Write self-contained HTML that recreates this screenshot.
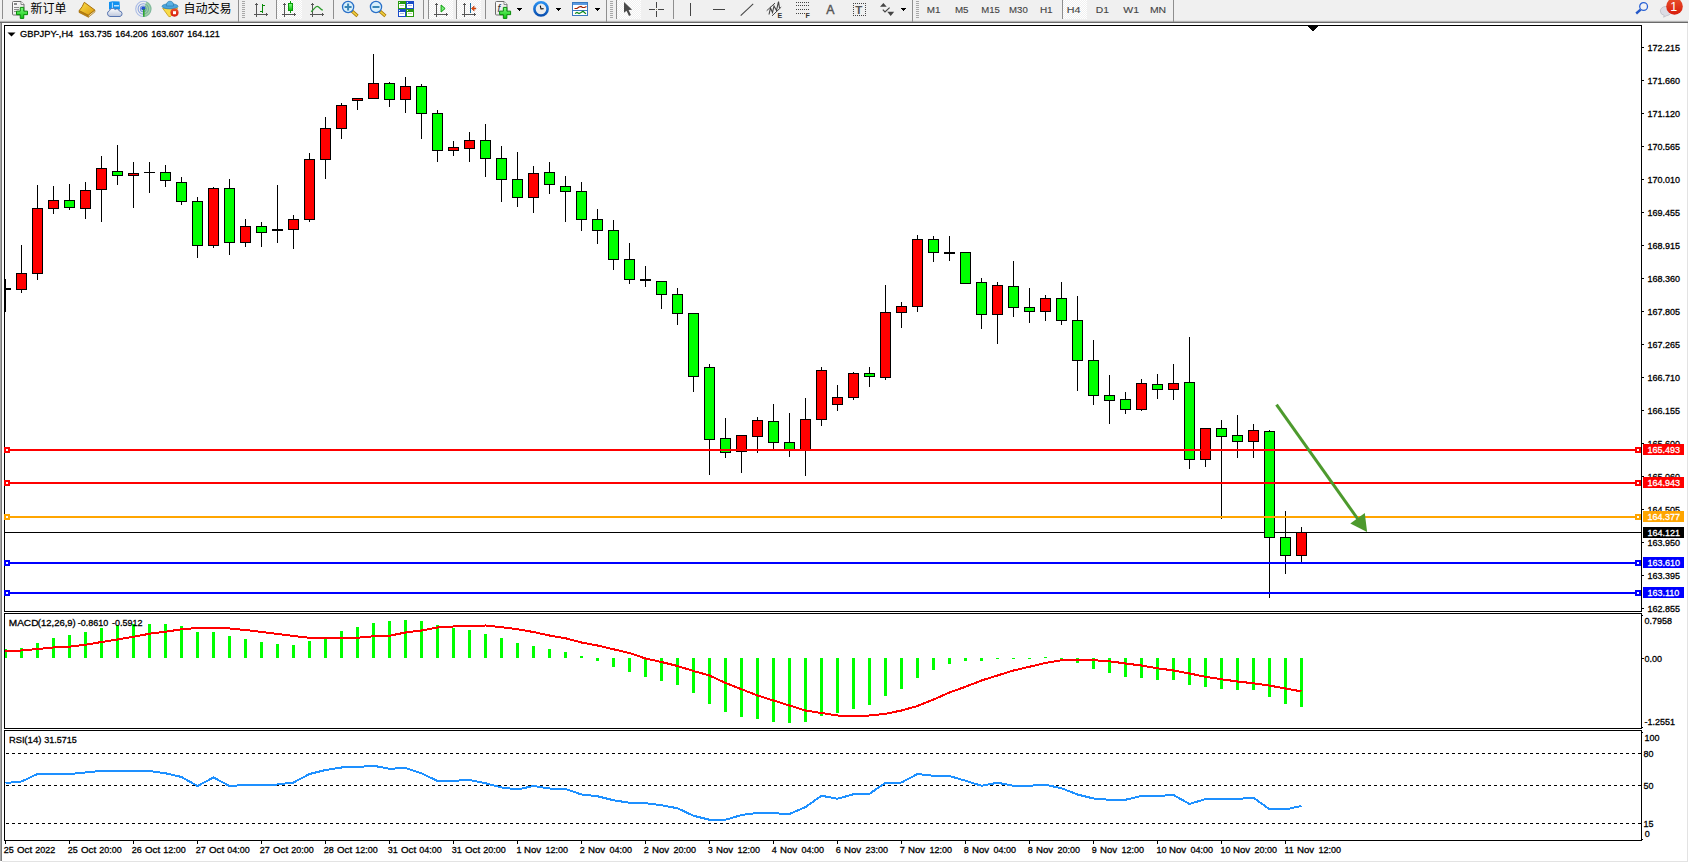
<!DOCTYPE html>
<html lang="zh"><head><meta charset="utf-8"><title>GBPJPY-,H4</title>
<style>
html,body{margin:0;padding:0;background:#fff;overflow:hidden}
svg{display:block}
text{font-family:"Liberation Sans","Noto Sans CJK SC",sans-serif;}
</style></head><body>
<svg width="1689" height="863" viewBox="0 0 1689 863">
<rect x="0" y="0" width="1689" height="863" fill="#fff"/>
<rect x="0" y="0" width="1689" height="20" fill="#f0f0f0"/>
<rect x="0" y="20" width="1688" height="1" fill="#e6e6e6"/>
<rect x="0" y="21" width="1688" height="1" fill="#b4b4b4"/>
<rect x="0" y="22" width="1688" height="1" fill="#6a6a6a"/>
<rect x="0" y="23" width="1" height="838" fill="#a6a6a6"/>
<rect x="1" y="23" width="1" height="838" fill="#7a7a7a"/>
<rect x="1687" y="23" width="1" height="839" fill="#e3e3e3"/>
<rect x="2" y="861" width="1686" height="1" fill="#e3e3e3"/>
<defs><linearGradient id="gp" x1="0" y1="0" x2="0" y2="1"><stop offset="0" stop-color="#7dfc7d"/><stop offset="1" stop-color="#0fc40f"/></linearGradient><linearGradient id="gd" x1="0" y1="0" x2="1" y2="1"><stop offset="0" stop-color="#ffffff"/><stop offset="1" stop-color="#dcdcdc"/></linearGradient><linearGradient id="gg" x1="0" y1="0" x2="1" y2="1"><stop offset="0" stop-color="#fde04a"/><stop offset="1" stop-color="#d9980c"/></linearGradient><linearGradient id="gc" x1="0" y1="0" x2="0" y2="1"><stop offset="0" stop-color="#ffffff"/><stop offset="1" stop-color="#bcc6dc"/></linearGradient><linearGradient id="gr" x1="0" y1="0" x2="0" y2="1"><stop offset="0" stop-color="#e8502c"/><stop offset="1" stop-color="#d81c0c"/></linearGradient><linearGradient id="gb" x1="0" y1="0" x2="0" y2="1"><stop offset="0" stop-color="#2a90f0"/><stop offset="1" stop-color="#0a50b0"/></linearGradient><pattern id="ck" width="2" height="2" patternUnits="userSpaceOnUse"><rect width="2" height="2" fill="#f0f0f0"/><rect width="1" height="1" fill="#fff"/><rect x="1" y="1" width="1" height="1" fill="#fff"/></pattern></defs>
<g shape-rendering="crispEdges">
<rect x="277" y="0" width="25" height="19" fill="url(#ck)"/>
<rect x="429" y="0" width="24" height="19" fill="url(#ck)"/>
<rect x="457" y="0" width="24" height="19" fill="url(#ck)"/>
<rect x="617" y="0" width="24" height="19" fill="url(#ck)"/>
<rect x="1063" y="0" width="24" height="19" fill="url(#ck)"/>
<rect x="2" y="0" width="1" height="19" fill="#8e8e8e"/>
<rect x="238" y="0" width="1" height="22" fill="#8e8e8e"/>
<rect x="606" y="0" width="1" height="22" fill="#8e8e8e"/>
<rect x="912" y="0" width="1" height="22" fill="#8e8e8e"/>
<rect x="1173" y="0" width="1" height="22" fill="#8e8e8e"/>
<rect x="276" y="0" width="1" height="19" fill="#8e8e8e"/>
<rect x="333" y="0" width="1" height="19" fill="#8e8e8e"/>
<rect x="423" y="0" width="1" height="19" fill="#8e8e8e"/>
<rect x="428" y="0" width="1" height="19" fill="#8e8e8e"/>
<rect x="456" y="0" width="1" height="19" fill="#8e8e8e"/>
<rect x="485" y="0" width="1" height="19" fill="#8e8e8e"/>
<rect x="616" y="0" width="1" height="19" fill="#8e8e8e"/>
<rect x="673" y="0" width="1" height="19" fill="#8e8e8e"/>
<rect x="1062" y="0" width="1" height="19" fill="#8e8e8e"/>
<rect x="242" y="1" width="3" height="1" fill="#a8a8a8"/>
<rect x="242" y="3" width="3" height="1" fill="#a8a8a8"/>
<rect x="242" y="5" width="3" height="1" fill="#a8a8a8"/>
<rect x="242" y="7" width="3" height="1" fill="#a8a8a8"/>
<rect x="242" y="9" width="3" height="1" fill="#a8a8a8"/>
<rect x="242" y="11" width="3" height="1" fill="#a8a8a8"/>
<rect x="242" y="13" width="3" height="1" fill="#a8a8a8"/>
<rect x="242" y="15" width="3" height="1" fill="#a8a8a8"/>
<rect x="242" y="17" width="3" height="1" fill="#a8a8a8"/>
<rect x="610" y="1" width="3" height="1" fill="#a8a8a8"/>
<rect x="610" y="3" width="3" height="1" fill="#a8a8a8"/>
<rect x="610" y="5" width="3" height="1" fill="#a8a8a8"/>
<rect x="610" y="7" width="3" height="1" fill="#a8a8a8"/>
<rect x="610" y="9" width="3" height="1" fill="#a8a8a8"/>
<rect x="610" y="11" width="3" height="1" fill="#a8a8a8"/>
<rect x="610" y="13" width="3" height="1" fill="#a8a8a8"/>
<rect x="610" y="15" width="3" height="1" fill="#a8a8a8"/>
<rect x="610" y="17" width="3" height="1" fill="#a8a8a8"/>
<rect x="916" y="1" width="3" height="1" fill="#a8a8a8"/>
<rect x="916" y="3" width="3" height="1" fill="#a8a8a8"/>
<rect x="916" y="5" width="3" height="1" fill="#a8a8a8"/>
<rect x="916" y="7" width="3" height="1" fill="#a8a8a8"/>
<rect x="916" y="9" width="3" height="1" fill="#a8a8a8"/>
<rect x="916" y="11" width="3" height="1" fill="#a8a8a8"/>
<rect x="916" y="13" width="3" height="1" fill="#a8a8a8"/>
<rect x="916" y="15" width="3" height="1" fill="#a8a8a8"/>
<rect x="916" y="17" width="3" height="1" fill="#a8a8a8"/>
<rect x="256" y="3" width="1" height="14" fill="#555"/>
<rect x="255" y="4" width="3" height="1" fill="#555"/>
<rect x="254" y="14" width="14" height="1" fill="#555"/>
<rect x="266" y="13" width="1" height="3" fill="#555"/>
<rect x="284" y="3" width="1" height="14" fill="#555"/>
<rect x="283" y="4" width="3" height="1" fill="#555"/>
<rect x="282" y="14" width="14" height="1" fill="#555"/>
<rect x="294" y="13" width="1" height="3" fill="#555"/>
<rect x="312" y="3" width="1" height="14" fill="#555"/>
<rect x="311" y="4" width="3" height="1" fill="#555"/>
<rect x="310" y="14" width="14" height="1" fill="#555"/>
<rect x="322" y="13" width="1" height="3" fill="#555"/>
<rect x="436" y="3" width="1" height="14" fill="#555"/>
<rect x="435" y="4" width="3" height="1" fill="#555"/>
<rect x="434" y="14" width="14" height="1" fill="#555"/>
<rect x="446" y="13" width="1" height="3" fill="#555"/>
<rect x="464" y="3" width="1" height="14" fill="#555"/>
<rect x="463" y="4" width="3" height="1" fill="#555"/>
<rect x="462" y="14" width="14" height="1" fill="#555"/>
<rect x="474" y="13" width="1" height="3" fill="#555"/>
<rect x="262" y="4" width="1" height="9" fill="#0a8a0a"/>
<rect x="263" y="5" width="2" height="1" fill="#0a8a0a"/>
<rect x="260" y="11" width="2" height="1" fill="#0a8a0a"/>
<rect x="290" y="1" width="1" height="12" fill="#0a9a0a"/>
<rect x="288" y="3" width="5" height="8" fill="#0a9a0a"/>
<rect x="289" y="4" width="3" height="6" fill="url(#gp)"/>
<rect x="470" y="3" width="1" height="10" fill="#1a6a9a"/>
<rect x="690" y="3" width="1" height="13" fill="#444"/>
<rect x="713" y="9" width="12" height="1" fill="#444"/>
<rect x="656" y="2" width="1" height="6" fill="#444"/>
<rect x="656" y="11" width="1" height="6" fill="#444"/>
<rect x="649" y="9" width="6" height="1" fill="#444"/>
<rect x="658" y="9" width="6" height="1" fill="#444"/>
<rect x="656" y="9" width="1" height="1" fill="#8a8060"/>
<rect x="517" y="8" width="5" height="1" fill="#000"/>
<rect x="518" y="9" width="3" height="1" fill="#000"/>
<rect x="519" y="10" width="1" height="1" fill="#000"/>
<rect x="556" y="8" width="5" height="1" fill="#000"/>
<rect x="557" y="9" width="3" height="1" fill="#000"/>
<rect x="558" y="10" width="1" height="1" fill="#000"/>
<rect x="595" y="8" width="5" height="1" fill="#000"/>
<rect x="596" y="9" width="3" height="1" fill="#000"/>
<rect x="597" y="10" width="1" height="1" fill="#000"/>
<rect x="901" y="8" width="5" height="1" fill="#000"/>
<rect x="902" y="9" width="3" height="1" fill="#000"/>
<rect x="903" y="10" width="1" height="1" fill="#000"/>
<rect x="398" y="1" width="8" height="8" fill="#2a9a10"/>
<rect x="399" y="4" width="6" height="4" fill="#fff"/>
<rect x="400" y="5" width="4" height="1" fill="#b8d8a0"/>
<rect x="399" y="2" width="1" height="1" fill="#dfe"/>
<rect x="406" y="1" width="8" height="8" fill="#1a4cc8"/>
<rect x="407" y="4" width="6" height="4" fill="#fff"/>
<rect x="408" y="5" width="4" height="1" fill="#a8b8e8"/>
<rect x="407" y="2" width="1" height="1" fill="#dfe"/>
<rect x="398" y="9" width="8" height="8" fill="#1a4cc8"/>
<rect x="399" y="12" width="6" height="4" fill="#fff"/>
<rect x="400" y="13" width="4" height="1" fill="#a8b8e8"/>
<rect x="399" y="10" width="1" height="1" fill="#dfe"/>
<rect x="406" y="9" width="8" height="8" fill="#2a9a10"/>
<rect x="407" y="12" width="6" height="4" fill="#fff"/>
<rect x="408" y="13" width="4" height="1" fill="#b8d8a0"/>
<rect x="407" y="10" width="1" height="1" fill="#dfe"/>
<rect x="796" y="2" width="1" height="1" fill="#444"/>
<rect x="798" y="2" width="1" height="1" fill="#444"/>
<rect x="800" y="2" width="1" height="1" fill="#444"/>
<rect x="802" y="2" width="1" height="1" fill="#444"/>
<rect x="804" y="2" width="1" height="1" fill="#444"/>
<rect x="806" y="2" width="1" height="1" fill="#444"/>
<rect x="808" y="2" width="1" height="1" fill="#444"/>
<rect x="796" y="5" width="1" height="1" fill="#444"/>
<rect x="798" y="5" width="1" height="1" fill="#444"/>
<rect x="800" y="5" width="1" height="1" fill="#444"/>
<rect x="802" y="5" width="1" height="1" fill="#444"/>
<rect x="804" y="5" width="1" height="1" fill="#444"/>
<rect x="806" y="5" width="1" height="1" fill="#444"/>
<rect x="808" y="5" width="1" height="1" fill="#444"/>
<rect x="796" y="9" width="1" height="1" fill="#444"/>
<rect x="798" y="9" width="1" height="1" fill="#444"/>
<rect x="800" y="9" width="1" height="1" fill="#444"/>
<rect x="802" y="9" width="1" height="1" fill="#444"/>
<rect x="804" y="9" width="1" height="1" fill="#444"/>
<rect x="806" y="9" width="1" height="1" fill="#444"/>
<rect x="808" y="9" width="1" height="1" fill="#444"/>
<rect x="796" y="13" width="1" height="1" fill="#444"/>
<rect x="798" y="13" width="1" height="1" fill="#444"/>
<rect x="800" y="13" width="1" height="1" fill="#444"/>
<rect x="802" y="13" width="1" height="1" fill="#444"/>
<rect x="804" y="13" width="1" height="1" fill="#444"/>
<rect x="853" y="3" width="1" height="1" fill="#444"/>
<rect x="853" y="15" width="1" height="1" fill="#444"/>
<rect x="855" y="3" width="1" height="1" fill="#444"/>
<rect x="855" y="15" width="1" height="1" fill="#444"/>
<rect x="857" y="3" width="1" height="1" fill="#444"/>
<rect x="857" y="15" width="1" height="1" fill="#444"/>
<rect x="859" y="3" width="1" height="1" fill="#444"/>
<rect x="859" y="15" width="1" height="1" fill="#444"/>
<rect x="861" y="3" width="1" height="1" fill="#444"/>
<rect x="861" y="15" width="1" height="1" fill="#444"/>
<rect x="863" y="3" width="1" height="1" fill="#444"/>
<rect x="863" y="15" width="1" height="1" fill="#444"/>
<rect x="865" y="3" width="1" height="1" fill="#444"/>
<rect x="865" y="15" width="1" height="1" fill="#444"/>
<rect x="853" y="3" width="1" height="1" fill="#444"/>
<rect x="865" y="3" width="1" height="1" fill="#444"/>
<rect x="853" y="5" width="1" height="1" fill="#444"/>
<rect x="865" y="5" width="1" height="1" fill="#444"/>
<rect x="853" y="7" width="1" height="1" fill="#444"/>
<rect x="865" y="7" width="1" height="1" fill="#444"/>
<rect x="853" y="9" width="1" height="1" fill="#444"/>
<rect x="865" y="9" width="1" height="1" fill="#444"/>
<rect x="853" y="11" width="1" height="1" fill="#444"/>
<rect x="865" y="11" width="1" height="1" fill="#444"/>
<rect x="853" y="13" width="1" height="1" fill="#444"/>
<rect x="865" y="13" width="1" height="1" fill="#444"/>
<rect x="853" y="15" width="1" height="1" fill="#444"/>
<rect x="865" y="15" width="1" height="1" fill="#444"/>
<rect x="572" y="2" width="16" height="14" fill="#3878c0"/>
<rect x="573" y="3" width="14" height="2" fill="#5a9ae0"/>
<rect x="573" y="5" width="14" height="5" fill="#fff"/>
<rect x="573" y="11" width="14" height="4" fill="#fff"/>
</g>
<polyline points="574.5,8.5 577,8.5 579,7 581,6.5 582.5,7.5 584.5,7.5 586.5,6.5" fill="none" stroke="#a02000" stroke-width="1.2"/>
<polyline points="575,13.5 577,12.5 579,13.5 581,12.5 583,11.3 585,13 586,13.8" fill="none" stroke="#0a8a1a" stroke-width="1.2"/>
<path d="M13.5,1.5 h7.5 l3,3 v9.5 q0,1 -1,1 h-9.5 q-1,0 -1,-1 v-11.5 q0,-1 1,-1z" fill="url(#gd)" stroke="#6e6e6e" stroke-width="1"/>
<path d="M21,1.5 v3 h3" fill="#fff" stroke="#6e6e6e" stroke-width="0.8"/>
<g shape-rendering="crispEdges">
<rect x="14" y="3" width="3" height="2" fill="#8a8a8a"/>
<rect x="14" y="7" width="5" height="1" fill="#8a8a8a"/>
<rect x="14" y="9" width="5" height="1" fill="#8a8a8a"/>
<rect x="14" y="11" width="3" height="1" fill="#8a8a8a"/>
</g>
<path d="M20.25,7.4 h3.5 v3.75 h3.75 v3.5 h-3.75 v3.75 h-3.5 v-3.75 h-3.75 v-3.5 h3.75z" fill="url(#gp)" stroke="#0a8a0a" stroke-width="1"/>
<path d="M496.5,1.5 h7.5 l3,3 v9.5 q0,1 -1,1 h-9.5 q-1,0 -1,-1 v-11.5 q0,-1 1,-1z" fill="url(#gd)" stroke="#6e6e6e" stroke-width="1"/>
<path d="M504,1.5 v3 h3" fill="#fff" stroke="#6e6e6e" stroke-width="0.8"/>
<text x="497.5" y="11.5" font-size="10" font-style="italic" font-family="Liberation Serif,serif" fill="#333">f</text>
<path d="M503.35,7.4 h3.5 v3.75 h3.75 v3.5 h-3.75 v3.75 h-3.5 v-3.75 h-3.75 v-3.5 h3.75z" fill="url(#gp)" stroke="#0a8a0a" stroke-width="1"/>
<path d="M79.2,10.6 L88.2,15.2 L88.4,17.2 L79,12.4 Z" fill="#c08a10" stroke="#a06a08" stroke-width="0.7" stroke-linejoin="round"/>
<path d="M88.2,15.2 L94.8,10 L95,11.8 L88.4,17.2Z" fill="#e8dcb0" stroke="#a8700c" stroke-width="0.7" stroke-linejoin="round"/>
<path d="M84.3,2.3 L94.8,10 L88.2,15.2 L79.2,10.6 Q82.5,7 84.3,2.3Z" fill="url(#gg)" stroke="#a8700c" stroke-width="1" stroke-linejoin="round"/>
<path d="M109,2 L112.5,1.2 L119.5,1.5 L120,9.5 L109,9.5Z" fill="#1090f0"/>
<path d="M112.4,2.5 V9.5" stroke="#e8f4ff" stroke-width="0.8"/>
<rect x="114" y="5.2" width="5" height="1.2" fill="#e8f4ff"/>
<path d="M110,16.5 a3,3 0 0 1 -0.5,-5.8 a3.2,3.2 0 0 1 5.6,-1.2 a2.6,2.6 0 0 1 4.2,1.5 a2.8,2.8 0 0 1 0.7,5.5z" fill="url(#gc)" stroke="#4868a8" stroke-width="0.9"/>
<circle cx="143.3" cy="8.9" r="7.6" fill="none" stroke="#2a5cd0" stroke-width="1.1" opacity="0.35"/>
<circle cx="143.3" cy="8.9" r="5.2" fill="none" stroke="#2a5cd0" stroke-width="1.1" opacity="0.5"/>
<circle cx="143.3" cy="8.9" r="2.9" fill="none" stroke="#2a5cd0" stroke-width="1.1" opacity="0.6"/>
<path d="M143.5,9 L143.5,17 A8.2,8.2 0 0 0 151.6,9 A8.2,8.2 0 0 0 146.5,1.4Z" fill="#58b858" opacity="0.5"/>
<circle cx="143.3" cy="8.6" r="2" fill="#2050d0"/>
<path d="M143.8,9 V16.8" stroke="#20a020" stroke-width="1.4"/>
<path d="M162.7,8.3 L177.7,7.9 L170.5,16.6 L168.8,16.6Z" fill="#f8dc48" stroke="#c89810" stroke-width="0.8"/>
<ellipse cx="170" cy="6.3" rx="8" ry="2.6" fill="#4aa4dc" stroke="#2a7cb0" stroke-width="0.7"/>
<path d="M166.3,6 Q166.5,1.2 170,1.2 Q173.5,1.2 173.7,6Z" fill="#5ab0e4" stroke="#2a7cb0" stroke-width="0.7"/>
<circle cx="174.5" cy="12.6" r="4.1" fill="url(#gr)"/>
<rect x="173" y="11.2" width="3" height="3" fill="#fff"/>
<text x="30.5" y="12.6" font-size="12" fill="#000">新订单</text>
<text x="183.5" y="12.6" font-size="12" fill="#000">自动交易</text>
<path d="M311,11.6 C313.5,10.5 315,6.3 317.2,6.4 C319.3,6.5 320.5,9.6 322.8,10.2" fill="none" stroke="#2a9a2a" stroke-width="1.2"/>
<path d="M351.90000000000003,11 L357.5,16" stroke="#a87808" stroke-width="3.2"/>
<path d="M352.5,11.6 L357.1,15.6" stroke="#f0d040" stroke-width="1.6"/>
<circle cx="348.1" cy="7" r="5.6" fill="#d8f0fc" stroke="#2a70c8" stroke-width="1.3"/>
<rect x="344.6" y="6" width="7" height="2" fill="#3a86b6"/>
<rect x="347.1" y="3.5" width="2" height="7" fill="#3a86b6"/>
<path d="M379.8,11 L385.4,16" stroke="#a87808" stroke-width="3.2"/>
<path d="M380.4,11.6 L385,15.6" stroke="#f0d040" stroke-width="1.6"/>
<circle cx="376" cy="7" r="5.6" fill="#d8f0fc" stroke="#2a70c8" stroke-width="1.3"/>
<rect x="372.5" y="6" width="7" height="2" fill="#3a86b6"/>
<path d="M441.1,5 L441.1,12 L445.1,8.5Z" fill="#78f078" stroke="#0a9a0a" stroke-width="1" stroke-linejoin="round"/>
<path d="M471.4,8.5 L474.2,6 L473.6,8 L475.8,8 L475.8,9 L473.6,9 L474.2,11Z" fill="#e85010" stroke="#b83000" stroke-width="0.6"/>
<circle cx="541" cy="8.9" r="6.6" fill="#ececec" stroke="url(#gb)" stroke-width="2.6"/>
<path d="M540.3,5.6 L541,9 L543.6,8.6" fill="none" stroke="#111" stroke-width="1.1"/>
<path d="M624,1.9 L624,12.8 L626.5,10.8 L629,16 L630.9,15.1 L628.6,9.9 L632.1,9.7Z" fill="#4a4a4a"/>
<path d="M740.7,15.6 L753.2,3.8" stroke="#444" stroke-width="1.1"/>
<path d="M766.7,10.7 L775,3.1 M772,15.9 L781.2,7.1" stroke="#444" stroke-width="1"/>
<path d="M769,14.5 L770.5,8 L772.5,12.5 L774,6 L776.5,10.5 L778.5,1.5 L779.5,8" fill="none" stroke="#444" stroke-width="1.1"/>
<text x="777.6" y="18" font-size="7" font-weight="bold" fill="#333">E</text>
<text x="805.6" y="18" font-size="7" font-weight="bold" fill="#333">F</text>
<text x="826.3" y="14" font-size="12.3" fill="#555" stroke="#555" stroke-width="0.4">A</text>
<text x="855.3" y="14" font-size="11.5" font-weight="bold" fill="#555">T</text>
<path d="M880,6.8 L883.4,2.9 L886.7,6.8Z M887.3,11.7 L894.2,11.7 L890.7,16Z" fill="#444"/>
<path d="M882.8,9.6 L885,12 L889.6,7.6" fill="none" stroke="#444" stroke-width="1.2"/>
<text transform="translate(926.8,12.8) scale(0.928,1)" font-size="9.7" fill="#444" stroke="#444" stroke-width="0.12" textLength="14.76" lengthAdjust="spacingAndGlyphs">M1</text>
<text transform="translate(954.9,12.8) scale(0.928,1)" font-size="9.7" fill="#444" stroke="#444" stroke-width="0.12" textLength="14.66" lengthAdjust="spacingAndGlyphs">M5</text>
<text transform="translate(981.3,12.8) scale(0.928,1)" font-size="9.7" fill="#444" stroke="#444" stroke-width="0.12" textLength="20.04" lengthAdjust="spacingAndGlyphs">M15</text>
<text transform="translate(1009.05,12.8) scale(0.928,1)" font-size="9.7" fill="#444" stroke="#444" stroke-width="0.12" textLength="20.15" lengthAdjust="spacingAndGlyphs">M30</text>
<text transform="translate(1039.8999999999999,12.8) scale(0.928,1)" font-size="9.7" fill="#444" stroke="#444" stroke-width="0.12" textLength="13.79" lengthAdjust="spacingAndGlyphs">H1</text>
<text transform="translate(1066.8,12.8) scale(0.928,1)" font-size="9.7" fill="#444" stroke="#444" stroke-width="0.12" textLength="14.76" lengthAdjust="spacingAndGlyphs">H4</text>
<text transform="translate(1095.8,12.8) scale(0.928,1)" font-size="9.7" fill="#444" stroke="#444" stroke-width="0.12" textLength="14.22" lengthAdjust="spacingAndGlyphs">D1</text>
<text transform="translate(1123.3,12.8) scale(0.928,1)" font-size="9.7" fill="#444" stroke="#444" stroke-width="0.12" textLength="16.92" lengthAdjust="spacingAndGlyphs">W1</text>
<text transform="translate(1149.8999999999999,12.8) scale(0.928,1)" font-size="9.7" fill="#444" stroke="#444" stroke-width="0.12" textLength="17.46" lengthAdjust="spacingAndGlyphs">MN</text>
<path d="M1640.6,9.6 L1636.2,13.5" stroke="#2458c8" stroke-width="2.4"/>
<circle cx="1643.6" cy="6.5" r="3.9" fill="#f2f2f4" stroke="#2a62d4" stroke-width="1.3"/>
<path d="M1660.3,11 a5.6,4.6 0 1 1 6.5,4.6 l-3.2,1.6 l0.6,-1.8 a5.4,4.6 0 0 1 -3.9,-4.4z" fill="#dcdce4" stroke="#b8b8c0" stroke-width="0.7"/>
<circle cx="1674.5" cy="6.4" r="8.3" fill="url(#gr)"/>
<text x="1670.3" y="11" font-size="12.5" fill="#fff">1</text>
<g shape-rendering="crispEdges">
<rect x="4" y="25" width="1638" height="1" fill="#000"/>
<rect x="4" y="611" width="1638" height="1" fill="#000"/>
<rect x="4" y="25" width="1" height="587" fill="#000"/>
<rect x="1641" y="25" width="1" height="587" fill="#000"/>
<rect x="4" y="613" width="1638" height="1" fill="#000"/>
<rect x="4" y="728" width="1638" height="1" fill="#000"/>
<rect x="4" y="613" width="1" height="116" fill="#000"/>
<rect x="1641" y="613" width="1" height="116" fill="#000"/>
<rect x="4" y="730" width="1638" height="1" fill="#000"/>
<rect x="4" y="840" width="1638" height="1" fill="#000"/>
<rect x="4" y="730" width="1" height="111" fill="#000"/>
<rect x="1641" y="730" width="1" height="111" fill="#000"/>
<rect x="5" y="532" width="1636" height="1" fill="#000"/>
<rect x="5" y="279" width="1" height="33" fill="#000"/>
<rect x="0" y="288" width="11" height="2" fill="#000"/>
<rect x="21" y="245" width="1" height="48" fill="#000"/>
<rect x="16" y="273" width="11" height="17" fill="#000"/>
<rect x="17" y="274" width="9" height="15" fill="#f00"/>
<rect x="37" y="185" width="1" height="95" fill="#000"/>
<rect x="32" y="208" width="11" height="66" fill="#000"/>
<rect x="33" y="209" width="9" height="64" fill="#f00"/>
<rect x="53" y="186" width="1" height="28" fill="#000"/>
<rect x="48" y="200" width="11" height="9" fill="#000"/>
<rect x="49" y="201" width="9" height="7" fill="#f00"/>
<rect x="69" y="184" width="1" height="26" fill="#000"/>
<rect x="64" y="200" width="11" height="8" fill="#000"/>
<rect x="65" y="201" width="9" height="6" fill="#0f0"/>
<rect x="85" y="182" width="1" height="37" fill="#000"/>
<rect x="80" y="190" width="11" height="19" fill="#000"/>
<rect x="81" y="191" width="9" height="17" fill="#f00"/>
<rect x="101" y="156" width="1" height="66" fill="#000"/>
<rect x="96" y="168" width="11" height="22" fill="#000"/>
<rect x="97" y="169" width="9" height="20" fill="#f00"/>
<rect x="117" y="145" width="1" height="40" fill="#000"/>
<rect x="112" y="171" width="11" height="5" fill="#000"/>
<rect x="113" y="172" width="9" height="3" fill="#0f0"/>
<rect x="133" y="162" width="1" height="46" fill="#000"/>
<rect x="128" y="173" width="11" height="3" fill="#000"/>
<rect x="129" y="174" width="9" height="1" fill="#f00"/>
<rect x="149" y="162" width="1" height="31" fill="#000"/>
<rect x="144" y="172" width="11" height="1" fill="#000"/>
<rect x="165" y="165" width="1" height="22" fill="#000"/>
<rect x="160" y="172" width="11" height="9" fill="#000"/>
<rect x="161" y="173" width="9" height="7" fill="#0f0"/>
<rect x="181" y="177" width="1" height="28" fill="#000"/>
<rect x="176" y="182" width="11" height="20" fill="#000"/>
<rect x="177" y="183" width="9" height="18" fill="#0f0"/>
<rect x="197" y="197" width="1" height="61" fill="#000"/>
<rect x="192" y="201" width="11" height="45" fill="#000"/>
<rect x="193" y="202" width="9" height="43" fill="#0f0"/>
<rect x="213" y="187" width="1" height="61" fill="#000"/>
<rect x="208" y="188" width="11" height="58" fill="#000"/>
<rect x="209" y="189" width="9" height="56" fill="#f00"/>
<rect x="229" y="179" width="1" height="76" fill="#000"/>
<rect x="224" y="188" width="11" height="55" fill="#000"/>
<rect x="225" y="189" width="9" height="53" fill="#0f0"/>
<rect x="245" y="219" width="1" height="28" fill="#000"/>
<rect x="240" y="226" width="11" height="17" fill="#000"/>
<rect x="241" y="227" width="9" height="15" fill="#f00"/>
<rect x="261" y="222" width="1" height="25" fill="#000"/>
<rect x="256" y="226" width="11" height="7" fill="#000"/>
<rect x="257" y="227" width="9" height="5" fill="#0f0"/>
<rect x="277" y="185" width="1" height="58" fill="#000"/>
<rect x="272" y="229" width="11" height="2" fill="#000"/>
<rect x="293" y="215" width="1" height="34" fill="#000"/>
<rect x="288" y="219" width="11" height="11" fill="#000"/>
<rect x="289" y="220" width="9" height="9" fill="#f00"/>
<rect x="309" y="153" width="1" height="69" fill="#000"/>
<rect x="304" y="159" width="11" height="61" fill="#000"/>
<rect x="305" y="160" width="9" height="59" fill="#f00"/>
<rect x="325" y="117" width="1" height="62" fill="#000"/>
<rect x="320" y="128" width="11" height="32" fill="#000"/>
<rect x="321" y="129" width="9" height="30" fill="#f00"/>
<rect x="341" y="103" width="1" height="36" fill="#000"/>
<rect x="336" y="105" width="11" height="24" fill="#000"/>
<rect x="337" y="106" width="9" height="22" fill="#f00"/>
<rect x="357" y="98" width="1" height="12" fill="#000"/>
<rect x="352" y="98" width="11" height="3" fill="#000"/>
<rect x="353" y="99" width="9" height="1" fill="#f00"/>
<rect x="373" y="54" width="1" height="45" fill="#000"/>
<rect x="368" y="83" width="11" height="16" fill="#000"/>
<rect x="369" y="84" width="9" height="14" fill="#f00"/>
<rect x="389" y="82" width="1" height="25" fill="#000"/>
<rect x="384" y="83" width="11" height="17" fill="#000"/>
<rect x="385" y="84" width="9" height="15" fill="#0f0"/>
<rect x="405" y="77" width="1" height="36" fill="#000"/>
<rect x="400" y="86" width="11" height="14" fill="#000"/>
<rect x="401" y="87" width="9" height="12" fill="#f00"/>
<rect x="421" y="84" width="1" height="55" fill="#000"/>
<rect x="416" y="86" width="11" height="28" fill="#000"/>
<rect x="417" y="87" width="9" height="26" fill="#0f0"/>
<rect x="437" y="110" width="1" height="52" fill="#000"/>
<rect x="432" y="113" width="11" height="38" fill="#000"/>
<rect x="433" y="114" width="9" height="36" fill="#0f0"/>
<rect x="453" y="141" width="1" height="15" fill="#000"/>
<rect x="448" y="147" width="11" height="4" fill="#000"/>
<rect x="449" y="148" width="9" height="2" fill="#f00"/>
<rect x="469" y="132" width="1" height="30" fill="#000"/>
<rect x="464" y="140" width="11" height="9" fill="#000"/>
<rect x="465" y="141" width="9" height="7" fill="#f00"/>
<rect x="485" y="124" width="1" height="53" fill="#000"/>
<rect x="480" y="140" width="11" height="19" fill="#000"/>
<rect x="481" y="141" width="9" height="17" fill="#0f0"/>
<rect x="501" y="146" width="1" height="56" fill="#000"/>
<rect x="496" y="158" width="11" height="22" fill="#000"/>
<rect x="497" y="159" width="9" height="20" fill="#0f0"/>
<rect x="517" y="152" width="1" height="55" fill="#000"/>
<rect x="512" y="179" width="11" height="19" fill="#000"/>
<rect x="513" y="180" width="9" height="17" fill="#0f0"/>
<rect x="533" y="166" width="1" height="47" fill="#000"/>
<rect x="528" y="173" width="11" height="25" fill="#000"/>
<rect x="529" y="174" width="9" height="23" fill="#f00"/>
<rect x="549" y="162" width="1" height="32" fill="#000"/>
<rect x="544" y="172" width="11" height="13" fill="#000"/>
<rect x="545" y="173" width="9" height="11" fill="#0f0"/>
<rect x="565" y="176" width="1" height="46" fill="#000"/>
<rect x="560" y="186" width="11" height="6" fill="#000"/>
<rect x="561" y="187" width="9" height="4" fill="#0f0"/>
<rect x="581" y="182" width="1" height="49" fill="#000"/>
<rect x="576" y="191" width="11" height="29" fill="#000"/>
<rect x="577" y="192" width="9" height="27" fill="#0f0"/>
<rect x="597" y="209" width="1" height="35" fill="#000"/>
<rect x="592" y="219" width="11" height="12" fill="#000"/>
<rect x="593" y="220" width="9" height="10" fill="#0f0"/>
<rect x="613" y="220" width="1" height="50" fill="#000"/>
<rect x="608" y="230" width="11" height="30" fill="#000"/>
<rect x="609" y="231" width="9" height="28" fill="#0f0"/>
<rect x="629" y="243" width="1" height="41" fill="#000"/>
<rect x="624" y="259" width="11" height="21" fill="#000"/>
<rect x="625" y="260" width="9" height="19" fill="#0f0"/>
<rect x="645" y="266" width="1" height="21" fill="#000"/>
<rect x="640" y="279" width="11" height="2" fill="#000"/>
<rect x="661" y="281" width="1" height="28" fill="#000"/>
<rect x="656" y="281" width="11" height="14" fill="#000"/>
<rect x="657" y="282" width="9" height="12" fill="#0f0"/>
<rect x="677" y="288" width="1" height="37" fill="#000"/>
<rect x="672" y="294" width="11" height="20" fill="#000"/>
<rect x="673" y="295" width="9" height="18" fill="#0f0"/>
<rect x="693" y="313" width="1" height="79" fill="#000"/>
<rect x="688" y="313" width="11" height="64" fill="#000"/>
<rect x="689" y="314" width="9" height="62" fill="#0f0"/>
<rect x="709" y="364" width="1" height="111" fill="#000"/>
<rect x="704" y="367" width="11" height="73" fill="#000"/>
<rect x="705" y="368" width="9" height="71" fill="#0f0"/>
<rect x="725" y="418" width="1" height="40" fill="#000"/>
<rect x="720" y="438" width="11" height="15" fill="#000"/>
<rect x="721" y="439" width="9" height="13" fill="#0f0"/>
<rect x="741" y="435" width="1" height="38" fill="#000"/>
<rect x="736" y="435" width="11" height="17" fill="#000"/>
<rect x="737" y="436" width="9" height="15" fill="#f00"/>
<rect x="757" y="417" width="1" height="36" fill="#000"/>
<rect x="752" y="420" width="11" height="17" fill="#000"/>
<rect x="753" y="421" width="9" height="15" fill="#f00"/>
<rect x="773" y="404" width="1" height="47" fill="#000"/>
<rect x="768" y="421" width="11" height="22" fill="#000"/>
<rect x="769" y="422" width="9" height="20" fill="#0f0"/>
<rect x="789" y="413" width="1" height="44" fill="#000"/>
<rect x="784" y="442" width="11" height="9" fill="#000"/>
<rect x="785" y="443" width="9" height="7" fill="#0f0"/>
<rect x="805" y="398" width="1" height="78" fill="#000"/>
<rect x="800" y="419" width="11" height="32" fill="#000"/>
<rect x="801" y="420" width="9" height="30" fill="#f00"/>
<rect x="821" y="367" width="1" height="59" fill="#000"/>
<rect x="816" y="370" width="11" height="50" fill="#000"/>
<rect x="817" y="371" width="9" height="48" fill="#f00"/>
<rect x="837" y="385" width="1" height="26" fill="#000"/>
<rect x="832" y="397" width="11" height="8" fill="#000"/>
<rect x="833" y="398" width="9" height="6" fill="#f00"/>
<rect x="853" y="372" width="1" height="28" fill="#000"/>
<rect x="848" y="373" width="11" height="25" fill="#000"/>
<rect x="849" y="374" width="9" height="23" fill="#f00"/>
<rect x="869" y="367" width="1" height="20" fill="#000"/>
<rect x="864" y="373" width="11" height="4" fill="#000"/>
<rect x="865" y="374" width="9" height="2" fill="#0f0"/>
<rect x="885" y="285" width="1" height="95" fill="#000"/>
<rect x="880" y="312" width="11" height="66" fill="#000"/>
<rect x="881" y="313" width="9" height="64" fill="#f00"/>
<rect x="901" y="302" width="1" height="26" fill="#000"/>
<rect x="896" y="306" width="11" height="7" fill="#000"/>
<rect x="897" y="307" width="9" height="5" fill="#f00"/>
<rect x="917" y="235" width="1" height="77" fill="#000"/>
<rect x="912" y="239" width="11" height="68" fill="#000"/>
<rect x="913" y="240" width="9" height="66" fill="#f00"/>
<rect x="933" y="236" width="1" height="26" fill="#000"/>
<rect x="928" y="239" width="11" height="14" fill="#000"/>
<rect x="929" y="240" width="9" height="12" fill="#0f0"/>
<rect x="949" y="236" width="1" height="25" fill="#000"/>
<rect x="944" y="252" width="11" height="2" fill="#000"/>
<rect x="965" y="252" width="1" height="32" fill="#000"/>
<rect x="960" y="252" width="11" height="32" fill="#000"/>
<rect x="961" y="253" width="9" height="30" fill="#0f0"/>
<rect x="981" y="278" width="1" height="51" fill="#000"/>
<rect x="976" y="282" width="11" height="33" fill="#000"/>
<rect x="977" y="283" width="9" height="31" fill="#0f0"/>
<rect x="997" y="282" width="1" height="62" fill="#000"/>
<rect x="992" y="285" width="11" height="30" fill="#000"/>
<rect x="993" y="286" width="9" height="28" fill="#f00"/>
<rect x="1013" y="261" width="1" height="56" fill="#000"/>
<rect x="1008" y="286" width="11" height="22" fill="#000"/>
<rect x="1009" y="287" width="9" height="20" fill="#0f0"/>
<rect x="1029" y="288" width="1" height="35" fill="#000"/>
<rect x="1024" y="307" width="11" height="5" fill="#000"/>
<rect x="1025" y="308" width="9" height="3" fill="#0f0"/>
<rect x="1045" y="295" width="1" height="26" fill="#000"/>
<rect x="1040" y="298" width="11" height="14" fill="#000"/>
<rect x="1041" y="299" width="9" height="12" fill="#f00"/>
<rect x="1061" y="282" width="1" height="43" fill="#000"/>
<rect x="1056" y="298" width="11" height="23" fill="#000"/>
<rect x="1057" y="299" width="9" height="21" fill="#0f0"/>
<rect x="1077" y="296" width="1" height="95" fill="#000"/>
<rect x="1072" y="320" width="11" height="41" fill="#000"/>
<rect x="1073" y="321" width="9" height="39" fill="#0f0"/>
<rect x="1093" y="340" width="1" height="65" fill="#000"/>
<rect x="1088" y="360" width="11" height="36" fill="#000"/>
<rect x="1089" y="361" width="9" height="34" fill="#0f0"/>
<rect x="1109" y="375" width="1" height="49" fill="#000"/>
<rect x="1104" y="395" width="11" height="6" fill="#000"/>
<rect x="1105" y="396" width="9" height="4" fill="#0f0"/>
<rect x="1125" y="392" width="1" height="22" fill="#000"/>
<rect x="1120" y="399" width="11" height="11" fill="#000"/>
<rect x="1121" y="400" width="9" height="9" fill="#0f0"/>
<rect x="1141" y="379" width="1" height="32" fill="#000"/>
<rect x="1136" y="383" width="11" height="27" fill="#000"/>
<rect x="1137" y="384" width="9" height="25" fill="#f00"/>
<rect x="1157" y="374" width="1" height="25" fill="#000"/>
<rect x="1152" y="384" width="11" height="6" fill="#000"/>
<rect x="1153" y="385" width="9" height="4" fill="#0f0"/>
<rect x="1173" y="364" width="1" height="36" fill="#000"/>
<rect x="1168" y="383" width="11" height="7" fill="#000"/>
<rect x="1169" y="384" width="9" height="5" fill="#f00"/>
<rect x="1189" y="337" width="1" height="132" fill="#000"/>
<rect x="1184" y="382" width="11" height="78" fill="#000"/>
<rect x="1185" y="383" width="9" height="76" fill="#0f0"/>
<rect x="1205" y="428" width="1" height="39" fill="#000"/>
<rect x="1200" y="428" width="11" height="32" fill="#000"/>
<rect x="1201" y="429" width="9" height="30" fill="#f00"/>
<rect x="1221" y="420" width="1" height="99" fill="#000"/>
<rect x="1216" y="428" width="11" height="9" fill="#000"/>
<rect x="1217" y="429" width="9" height="7" fill="#0f0"/>
<rect x="1237" y="415" width="1" height="43" fill="#000"/>
<rect x="1232" y="435" width="11" height="7" fill="#000"/>
<rect x="1233" y="436" width="9" height="5" fill="#0f0"/>
<rect x="1253" y="424" width="1" height="34" fill="#000"/>
<rect x="1248" y="430" width="11" height="12" fill="#000"/>
<rect x="1249" y="431" width="9" height="10" fill="#f00"/>
<rect x="1269" y="430" width="1" height="168" fill="#000"/>
<rect x="1264" y="431" width="11" height="107" fill="#000"/>
<rect x="1265" y="432" width="9" height="105" fill="#0f0"/>
<rect x="1285" y="511" width="1" height="63" fill="#000"/>
<rect x="1280" y="537" width="11" height="19" fill="#000"/>
<rect x="1281" y="538" width="9" height="17" fill="#0f0"/>
<rect x="1301" y="527" width="1" height="35" fill="#000"/>
<rect x="1296" y="532" width="11" height="24" fill="#000"/>
<rect x="1297" y="533" width="9" height="22" fill="#f00"/>
<rect x="4" y="25" width="1" height="587" fill="#000"/>
<rect x="0" y="23" width="4" height="838" fill="#fff"/>
<rect x="0" y="23" width="1" height="838" fill="#a6a6a6"/>
<rect x="1" y="23" width="1" height="838" fill="#7a7a7a"/>
<rect x="1642" y="47" width="2" height="1" fill="#000"/>
<rect x="1642" y="80" width="2" height="1" fill="#000"/>
<rect x="1642" y="113" width="2" height="1" fill="#000"/>
<rect x="1642" y="146" width="2" height="1" fill="#000"/>
<rect x="1642" y="179" width="2" height="1" fill="#000"/>
<rect x="1642" y="212" width="2" height="1" fill="#000"/>
<rect x="1642" y="245" width="2" height="1" fill="#000"/>
<rect x="1642" y="278" width="2" height="1" fill="#000"/>
<rect x="1642" y="311" width="2" height="1" fill="#000"/>
<rect x="1642" y="344" width="2" height="1" fill="#000"/>
<rect x="1642" y="377" width="2" height="1" fill="#000"/>
<rect x="1642" y="410" width="2" height="1" fill="#000"/>
<rect x="1642" y="443" width="2" height="1" fill="#000"/>
<rect x="1642" y="476" width="2" height="1" fill="#000"/>
<rect x="1642" y="509" width="2" height="1" fill="#000"/>
<rect x="1642" y="542" width="2" height="1" fill="#000"/>
<rect x="1642" y="575" width="2" height="1" fill="#000"/>
<rect x="1642" y="608" width="2" height="1" fill="#000"/>
</g>
<text transform="translate(1647.5,51) scale(0.928,1)" font-size="9.7" fill="#000" stroke="#000" stroke-width="0.3">172.215</text>
<text transform="translate(1647.5,84) scale(0.928,1)" font-size="9.7" fill="#000" stroke="#000" stroke-width="0.3">171.660</text>
<text transform="translate(1647.5,117) scale(0.928,1)" font-size="9.7" fill="#000" stroke="#000" stroke-width="0.3">171.120</text>
<text transform="translate(1647.5,150) scale(0.928,1)" font-size="9.7" fill="#000" stroke="#000" stroke-width="0.3">170.565</text>
<text transform="translate(1647.5,183) scale(0.928,1)" font-size="9.7" fill="#000" stroke="#000" stroke-width="0.3">170.010</text>
<text transform="translate(1647.5,216) scale(0.928,1)" font-size="9.7" fill="#000" stroke="#000" stroke-width="0.3">169.455</text>
<text transform="translate(1647.5,249) scale(0.928,1)" font-size="9.7" fill="#000" stroke="#000" stroke-width="0.3">168.915</text>
<text transform="translate(1647.5,282) scale(0.928,1)" font-size="9.7" fill="#000" stroke="#000" stroke-width="0.3">168.360</text>
<text transform="translate(1647.5,315) scale(0.928,1)" font-size="9.7" fill="#000" stroke="#000" stroke-width="0.3">167.805</text>
<text transform="translate(1647.5,348) scale(0.928,1)" font-size="9.7" fill="#000" stroke="#000" stroke-width="0.3">167.265</text>
<text transform="translate(1647.5,381) scale(0.928,1)" font-size="9.7" fill="#000" stroke="#000" stroke-width="0.3">166.710</text>
<text transform="translate(1647.5,414) scale(0.928,1)" font-size="9.7" fill="#000" stroke="#000" stroke-width="0.3">166.155</text>
<text transform="translate(1647.5,447) scale(0.928,1)" font-size="9.7" fill="#000" stroke="#000" stroke-width="0.3">165.600</text>
<text transform="translate(1647.5,480) scale(0.928,1)" font-size="9.7" fill="#000" stroke="#000" stroke-width="0.3">165.060</text>
<text transform="translate(1647.5,513) scale(0.928,1)" font-size="9.7" fill="#000" stroke="#000" stroke-width="0.3">164.505</text>
<text transform="translate(1647.5,546) scale(0.928,1)" font-size="9.7" fill="#000" stroke="#000" stroke-width="0.3">163.950</text>
<text transform="translate(1647.5,579) scale(0.928,1)" font-size="9.7" fill="#000" stroke="#000" stroke-width="0.3">163.395</text>
<text transform="translate(1647.5,612) scale(0.928,1)" font-size="9.7" fill="#000" stroke="#000" stroke-width="0.3">162.855</text>
<g shape-rendering="crispEdges">
<rect x="5" y="449" width="1636" height="2" fill="#f00"/>
<rect x="4" y="447" width="6" height="6" fill="#f00"/>
<rect x="6" y="449" width="2" height="2" fill="#fff"/>
<rect x="1635" y="447" width="6" height="6" fill="#f00"/>
<rect x="1637" y="449" width="2" height="2" fill="#fff"/>
<rect x="1643" y="444" width="41" height="11" fill="#f00"/>
<rect x="5" y="482" width="1636" height="2" fill="#f00"/>
<rect x="4" y="480" width="6" height="6" fill="#f00"/>
<rect x="6" y="482" width="2" height="2" fill="#fff"/>
<rect x="1635" y="480" width="6" height="6" fill="#f00"/>
<rect x="1637" y="482" width="2" height="2" fill="#fff"/>
<rect x="1643" y="477" width="41" height="11" fill="#f00"/>
<rect x="5" y="516" width="1636" height="2" fill="#ffa500"/>
<rect x="4" y="514" width="6" height="6" fill="#ffa500"/>
<rect x="6" y="516" width="2" height="2" fill="#fff"/>
<rect x="1635" y="514" width="6" height="6" fill="#ffa500"/>
<rect x="1637" y="516" width="2" height="2" fill="#fff"/>
<rect x="1643" y="511" width="41" height="11" fill="#ffa500"/>
<rect x="5" y="562" width="1636" height="2" fill="#00f"/>
<rect x="4" y="560" width="6" height="6" fill="#00f"/>
<rect x="6" y="562" width="2" height="2" fill="#fff"/>
<rect x="1635" y="560" width="6" height="6" fill="#00f"/>
<rect x="1637" y="562" width="2" height="2" fill="#fff"/>
<rect x="1643" y="557" width="41" height="11" fill="#00f"/>
<rect x="5" y="592" width="1636" height="2" fill="#00f"/>
<rect x="4" y="590" width="6" height="6" fill="#00f"/>
<rect x="6" y="592" width="2" height="2" fill="#fff"/>
<rect x="1635" y="590" width="6" height="6" fill="#00f"/>
<rect x="1637" y="592" width="2" height="2" fill="#fff"/>
<rect x="1643" y="587" width="41" height="11" fill="#00f"/>
<rect x="1643" y="527" width="41" height="11" fill="#000"/>
<rect x="1308" y="26" width="10" height="1" fill="#000"/>
<rect x="1309" y="27" width="8" height="1" fill="#000"/>
<rect x="1310" y="28" width="6" height="1" fill="#000"/>
<rect x="1311" y="29" width="4" height="1" fill="#000"/>
<rect x="1312" y="30" width="2" height="1" fill="#000"/>
</g>
<text transform="translate(1647.5,453) scale(0.928,1)" font-size="9.7" fill="#fff" stroke="#fff" stroke-width="0.3">165.493</text>
<text transform="translate(1647.5,486) scale(0.928,1)" font-size="9.7" fill="#fff" stroke="#fff" stroke-width="0.3">164.943</text>
<text transform="translate(1647.5,520) scale(0.928,1)" font-size="9.7" fill="#fff" stroke="#fff" stroke-width="0.3">164.377</text>
<text transform="translate(1647.5,566) scale(0.928,1)" font-size="9.7" fill="#fff" stroke="#fff" stroke-width="0.3">163.610</text>
<text transform="translate(1647.5,596) scale(0.928,1)" font-size="9.7" fill="#fff" stroke="#fff" stroke-width="0.3">163.110</text>
<text transform="translate(1647.5,536) scale(0.928,1)" font-size="9.7" fill="#fff" stroke="#fff" stroke-width="0.3">164.121</text>
<line x1="1276.5" y1="404.6" x2="1358.5" y2="520" stroke="#4d9a2d" stroke-width="3"/>
<polygon points="1350.3,523.4 1364.8,513.1 1367.1,532.1" fill="#4d9a2d"/>
<polygon points="7.5,32.5 15.5,32.5 11.5,36.5" fill="#000"/>
<text transform="scale(0.928,1)" y="37" font-size="9.7" fill="#000" stroke="#000" stroke-width="0.3"><tspan x="21.55" textLength="57.44" lengthAdjust="spacingAndGlyphs">GBPJPY-,H4</tspan> <tspan x="85.45">163.735</tspan> <tspan x="124.25">164.206</tspan> <tspan x="163.04">163.607</tspan> <tspan x="201.72">164.121</tspan></text>
<g shape-rendering="crispEdges">
<rect x="4" y="649" width="3" height="9" fill="#0f0"/>
<rect x="20" y="648" width="3" height="10" fill="#0f0"/>
<rect x="36" y="643" width="3" height="15" fill="#0f0"/>
<rect x="52" y="638" width="3" height="20" fill="#0f0"/>
<rect x="68" y="635" width="3" height="23" fill="#0f0"/>
<rect x="84" y="632" width="3" height="26" fill="#0f0"/>
<rect x="100" y="628" width="3" height="30" fill="#0f0"/>
<rect x="116" y="625" width="3" height="33" fill="#0f0"/>
<rect x="132" y="624" width="3" height="34" fill="#0f0"/>
<rect x="148" y="624" width="3" height="34" fill="#0f0"/>
<rect x="164" y="624" width="3" height="34" fill="#0f0"/>
<rect x="180" y="626" width="3" height="32" fill="#0f0"/>
<rect x="196" y="632" width="3" height="26" fill="#0f0"/>
<rect x="212" y="632" width="3" height="26" fill="#0f0"/>
<rect x="228" y="636" width="3" height="22" fill="#0f0"/>
<rect x="244" y="639" width="3" height="19" fill="#0f0"/>
<rect x="260" y="642" width="3" height="16" fill="#0f0"/>
<rect x="276" y="644" width="3" height="14" fill="#0f0"/>
<rect x="292" y="645" width="3" height="13" fill="#0f0"/>
<rect x="308" y="641" width="3" height="17" fill="#0f0"/>
<rect x="324" y="638" width="3" height="20" fill="#0f0"/>
<rect x="340" y="631" width="3" height="27" fill="#0f0"/>
<rect x="356" y="627" width="3" height="31" fill="#0f0"/>
<rect x="372" y="623" width="3" height="35" fill="#0f0"/>
<rect x="388" y="621" width="3" height="37" fill="#0f0"/>
<rect x="404" y="620" width="3" height="38" fill="#0f0"/>
<rect x="420" y="621" width="3" height="37" fill="#0f0"/>
<rect x="436" y="625" width="3" height="33" fill="#0f0"/>
<rect x="452" y="628" width="3" height="30" fill="#0f0"/>
<rect x="468" y="630" width="3" height="28" fill="#0f0"/>
<rect x="484" y="634" width="3" height="24" fill="#0f0"/>
<rect x="500" y="638" width="3" height="20" fill="#0f0"/>
<rect x="516" y="643" width="3" height="15" fill="#0f0"/>
<rect x="532" y="646" width="3" height="12" fill="#0f0"/>
<rect x="548" y="649" width="3" height="9" fill="#0f0"/>
<rect x="564" y="652" width="3" height="6" fill="#0f0"/>
<rect x="580" y="656" width="3" height="2" fill="#0f0"/>
<rect x="596" y="658" width="3" height="3" fill="#0f0"/>
<rect x="612" y="658" width="3" height="9" fill="#0f0"/>
<rect x="628" y="658" width="3" height="14" fill="#0f0"/>
<rect x="644" y="658" width="3" height="19" fill="#0f0"/>
<rect x="660" y="658" width="3" height="23" fill="#0f0"/>
<rect x="676" y="658" width="3" height="27" fill="#0f0"/>
<rect x="692" y="658" width="3" height="35" fill="#0f0"/>
<rect x="708" y="658" width="3" height="46" fill="#0f0"/>
<rect x="724" y="658" width="3" height="54" fill="#0f0"/>
<rect x="740" y="658" width="3" height="59" fill="#0f0"/>
<rect x="756" y="658" width="3" height="61" fill="#0f0"/>
<rect x="772" y="658" width="3" height="64" fill="#0f0"/>
<rect x="788" y="658" width="3" height="65" fill="#0f0"/>
<rect x="804" y="658" width="3" height="64" fill="#0f0"/>
<rect x="820" y="658" width="3" height="58" fill="#0f0"/>
<rect x="836" y="658" width="3" height="55" fill="#0f0"/>
<rect x="852" y="658" width="3" height="51" fill="#0f0"/>
<rect x="868" y="658" width="3" height="47" fill="#0f0"/>
<rect x="884" y="658" width="3" height="38" fill="#0f0"/>
<rect x="900" y="658" width="3" height="31" fill="#0f0"/>
<rect x="916" y="658" width="3" height="20" fill="#0f0"/>
<rect x="932" y="658" width="3" height="12" fill="#0f0"/>
<rect x="948" y="658" width="3" height="6" fill="#0f0"/>
<rect x="964" y="658" width="3" height="3" fill="#0f0"/>
<rect x="980" y="658" width="3" height="3" fill="#0f0"/>
<rect x="996" y="658" width="3" height="1" fill="#0f0"/>
<rect x="1012" y="658" width="3" height="1" fill="#0f0"/>
<rect x="1028" y="658" width="3" height="1" fill="#0f0"/>
<rect x="1044" y="657" width="3" height="1" fill="#0f0"/>
<rect x="1060" y="658" width="3" height="3" fill="#0f0"/>
<rect x="1076" y="658" width="3" height="5" fill="#0f0"/>
<rect x="1092" y="658" width="3" height="11" fill="#0f0"/>
<rect x="1108" y="658" width="3" height="15" fill="#0f0"/>
<rect x="1124" y="658" width="3" height="19" fill="#0f0"/>
<rect x="1140" y="658" width="3" height="20" fill="#0f0"/>
<rect x="1156" y="658" width="3" height="22" fill="#0f0"/>
<rect x="1172" y="658" width="3" height="22" fill="#0f0"/>
<rect x="1188" y="658" width="3" height="27" fill="#0f0"/>
<rect x="1204" y="658" width="3" height="29" fill="#0f0"/>
<rect x="1220" y="658" width="3" height="31" fill="#0f0"/>
<rect x="1236" y="658" width="3" height="32" fill="#0f0"/>
<rect x="1252" y="658" width="3" height="32" fill="#0f0"/>
<rect x="1268" y="658" width="3" height="39" fill="#0f0"/>
<rect x="1284" y="658" width="3" height="46" fill="#0f0"/>
<rect x="1300" y="658" width="3" height="49" fill="#0f0"/>
<polyline points="5.5,651 21.5,650.5 37.5,649 53.5,647.5 69.5,646.75 85.5,644.75 101.5,642 117.5,639.5 133.5,636.75 149.5,633.75 165.5,631.75 181.5,629.25 197.5,628 213.5,627.75 229.5,628.5 245.5,630 261.5,632 277.5,634 293.5,636 309.5,637.75 325.5,638 341.5,638 357.5,637.75 373.5,636.25 389.5,635.75 405.5,632.5 421.5,630.5 437.5,627.5 453.5,626.5 469.5,625.75 485.5,625.5 501.5,627.25 517.5,629.25 533.5,632 549.5,635.5 565.5,638.25 581.5,642.5 597.5,645.5 613.5,649.25 629.5,653 645.5,658.5 661.5,662 677.5,666 693.5,671 709.5,675.5 725.5,683 741.5,689.25 757.5,695.5 773.5,700.5 789.5,705.5 805.5,710.5 821.5,713 837.5,715.5 853.5,715.75 869.5,715.5 885.5,713.75 901.5,710.5 917.5,706 933.5,699.5 949.5,692.5 965.5,686.75 981.5,680.5 997.5,675.5 1013.5,670.5 1029.5,666.75 1045.5,663 1061.5,660.25 1077.5,660 1093.5,660.25 1109.5,661.25 1125.5,663.5 1141.5,665.5 1157.5,668.25 1173.5,670.5 1189.5,673.5 1205.5,676.75 1221.5,679.25 1237.5,681.5 1253.5,683.3 1269.5,685.6 1285.5,688.5 1301.5,691.4" fill="none" stroke="#f00" stroke-width="2"/>
<rect x="4" y="613" width="1" height="116" fill="#000"/>
<rect x="1642" y="615" width="1" height="1" fill="#000"/>
<rect x="1642" y="658" width="2" height="1" fill="#000"/>
<rect x="1642" y="727" width="1" height="1" fill="#000"/>
<line x1="6" y1="753.5" x2="1641" y2="753.5" stroke="#000" stroke-width="1" stroke-dasharray="3,3"/>
<line x1="6" y1="785.5" x2="1641" y2="785.5" stroke="#000" stroke-width="1" stroke-dasharray="3,3"/>
<line x1="6" y1="823.5" x2="1641" y2="823.5" stroke="#000" stroke-width="1" stroke-dasharray="3,3"/>
<polyline points="5.5,783 21.5,781.5 37.5,774 53.5,774 69.5,774 85.5,772.5 101.5,770.75 117.5,770.75 133.5,770.75 149.5,771 165.5,773.25 181.5,777 197.5,786 213.5,777.5 229.5,786 245.5,785 261.5,784.75 277.5,784.5 293.5,782.5 309.5,774 325.5,770 341.5,767.5 357.5,767 373.5,765.75 389.5,768.75 405.5,768 421.5,773.25 437.5,781 453.5,780.75 469.5,780 485.5,783.25 501.5,787.5 517.5,789.5 533.5,786 549.5,788.5 565.5,789 581.5,794.5 597.5,796.25 613.5,800.25 629.5,802.75 645.5,803.25 661.5,805.25 677.5,808.25 693.5,815.75 709.5,819.75 725.5,819.75 741.5,815 757.5,813 773.5,813.25 789.5,814 805.5,807 821.5,795.75 837.5,798.75 853.5,794.25 869.5,793.75 885.5,782.75 901.5,782.5 917.5,774 933.5,775.75 949.5,776 965.5,780.75 981.5,785.75 997.5,782.75 1013.5,785.75 1029.5,785.75 1045.5,784.75 1061.5,788.25 1077.5,794.5 1093.5,798.5 1109.5,799.75 1125.5,799.75 1141.5,796 1157.5,796 1173.5,795 1189.5,804 1205.5,799 1221.5,799 1237.5,799 1253.5,797.6 1269.5,809.4 1285.5,809.4 1301.5,806" fill="none" stroke="#1e90ff" stroke-width="2"/>
<rect x="4" y="730" width="1" height="111" fill="#000"/>
<rect x="1642" y="732" width="1" height="1" fill="#000"/>
<rect x="1642" y="839" width="1" height="1" fill="#000"/>
<rect x="5" y="841" width="1" height="3" fill="#000"/>
<rect x="69" y="841" width="1" height="3" fill="#000"/>
<rect x="133" y="841" width="1" height="3" fill="#000"/>
<rect x="197" y="841" width="1" height="3" fill="#000"/>
<rect x="261" y="841" width="1" height="3" fill="#000"/>
<rect x="325" y="841" width="1" height="3" fill="#000"/>
<rect x="389" y="841" width="1" height="3" fill="#000"/>
<rect x="453" y="841" width="1" height="3" fill="#000"/>
<rect x="517" y="841" width="1" height="3" fill="#000"/>
<rect x="581" y="841" width="1" height="3" fill="#000"/>
<rect x="645" y="841" width="1" height="3" fill="#000"/>
<rect x="709" y="841" width="1" height="3" fill="#000"/>
<rect x="773" y="841" width="1" height="3" fill="#000"/>
<rect x="837" y="841" width="1" height="3" fill="#000"/>
<rect x="901" y="841" width="1" height="3" fill="#000"/>
<rect x="965" y="841" width="1" height="3" fill="#000"/>
<rect x="1029" y="841" width="1" height="3" fill="#000"/>
<rect x="1093" y="841" width="1" height="3" fill="#000"/>
<rect x="1157" y="841" width="1" height="3" fill="#000"/>
<rect x="1221" y="841" width="1" height="3" fill="#000"/>
<rect x="1285" y="841" width="1" height="3" fill="#000"/>
</g>
<text transform="scale(0.928,1)" y="853" font-size="9.7" fill="#000" stroke="#000" stroke-width="0.3"><tspan x="4.09">25</tspan> <tspan x="18.32" textLength="16.38" lengthAdjust="spacingAndGlyphs">Oct</tspan> <tspan x="38.04">2022</tspan></text>
<text transform="scale(0.928,1)" y="853" font-size="9.7" fill="#000" stroke="#000" stroke-width="0.3"><tspan x="73.06">25</tspan> <tspan x="87.28" textLength="16.38" lengthAdjust="spacingAndGlyphs">Oct</tspan> <tspan x="107.00">20:00</tspan></text>
<text transform="scale(0.928,1)" y="853" font-size="9.7" fill="#000" stroke="#000" stroke-width="0.3"><tspan x="142.03">26</tspan> <tspan x="156.25" textLength="16.38" lengthAdjust="spacingAndGlyphs">Oct</tspan> <tspan x="175.97">12:00</tspan></text>
<text transform="scale(0.928,1)" y="853" font-size="9.7" fill="#000" stroke="#000" stroke-width="0.3"><tspan x="210.99">27</tspan> <tspan x="225.22" textLength="16.38" lengthAdjust="spacingAndGlyphs">Oct</tspan> <tspan x="244.94">04:00</tspan></text>
<text transform="scale(0.928,1)" y="853" font-size="9.7" fill="#000" stroke="#000" stroke-width="0.3"><tspan x="279.96">27</tspan> <tspan x="294.18" textLength="16.38" lengthAdjust="spacingAndGlyphs">Oct</tspan> <tspan x="313.90">20:00</tspan></text>
<text transform="scale(0.928,1)" y="853" font-size="9.7" fill="#000" stroke="#000" stroke-width="0.3"><tspan x="348.92">28</tspan> <tspan x="363.15" textLength="16.38" lengthAdjust="spacingAndGlyphs">Oct</tspan> <tspan x="382.87">12:00</tspan></text>
<text transform="scale(0.928,1)" y="853" font-size="9.7" fill="#000" stroke="#000" stroke-width="0.3"><tspan x="417.89">31</tspan> <tspan x="432.11" textLength="16.38" lengthAdjust="spacingAndGlyphs">Oct</tspan> <tspan x="451.83">04:00</tspan></text>
<text transform="scale(0.928,1)" y="853" font-size="9.7" fill="#000" stroke="#000" stroke-width="0.3"><tspan x="486.85">31</tspan> <tspan x="501.08" textLength="16.38" lengthAdjust="spacingAndGlyphs">Oct</tspan> <tspan x="520.80">20:00</tspan></text>
<text transform="scale(0.928,1)" y="853" font-size="9.7" fill="#000" stroke="#000" stroke-width="0.3"><tspan x="556.57">1</tspan> <tspan x="564.66" textLength="18.53" lengthAdjust="spacingAndGlyphs">Nov</tspan> <tspan x="587.72">12:00</tspan></text>
<text transform="scale(0.928,1)" y="853" font-size="9.7" fill="#000" stroke="#000" stroke-width="0.3"><tspan x="624.78">2</tspan> <tspan x="633.62" textLength="18.53" lengthAdjust="spacingAndGlyphs">Nov</tspan> <tspan x="656.68">04:00</tspan></text>
<text transform="scale(0.928,1)" y="853" font-size="9.7" fill="#000" stroke="#000" stroke-width="0.3"><tspan x="693.75">2</tspan> <tspan x="702.59" textLength="18.53" lengthAdjust="spacingAndGlyphs">Nov</tspan> <tspan x="725.65">20:00</tspan></text>
<text transform="scale(0.928,1)" y="853" font-size="9.7" fill="#000" stroke="#000" stroke-width="0.3"><tspan x="762.72">3</tspan> <tspan x="771.55" textLength="18.53" lengthAdjust="spacingAndGlyphs">Nov</tspan> <tspan x="794.61">12:00</tspan></text>
<text transform="scale(0.928,1)" y="853" font-size="9.7" fill="#000" stroke="#000" stroke-width="0.3"><tspan x="831.68">4</tspan> <tspan x="840.52" textLength="18.53" lengthAdjust="spacingAndGlyphs">Nov</tspan> <tspan x="863.58">04:00</tspan></text>
<text transform="scale(0.928,1)" y="853" font-size="9.7" fill="#000" stroke="#000" stroke-width="0.3"><tspan x="900.65">6</tspan> <tspan x="909.48" textLength="18.53" lengthAdjust="spacingAndGlyphs">Nov</tspan> <tspan x="932.54">23:00</tspan></text>
<text transform="scale(0.928,1)" y="853" font-size="9.7" fill="#000" stroke="#000" stroke-width="0.3"><tspan x="969.61">7</tspan> <tspan x="978.45" textLength="18.53" lengthAdjust="spacingAndGlyphs">Nov</tspan> <tspan x="1001.51">12:00</tspan></text>
<text transform="scale(0.928,1)" y="853" font-size="9.7" fill="#000" stroke="#000" stroke-width="0.3"><tspan x="1038.58">8</tspan> <tspan x="1047.41" textLength="18.53" lengthAdjust="spacingAndGlyphs">Nov</tspan> <tspan x="1070.47">04:00</tspan></text>
<text transform="scale(0.928,1)" y="853" font-size="9.7" fill="#000" stroke="#000" stroke-width="0.3"><tspan x="1107.54">8</tspan> <tspan x="1116.38" textLength="18.53" lengthAdjust="spacingAndGlyphs">Nov</tspan> <tspan x="1139.44">20:00</tspan></text>
<text transform="scale(0.928,1)" y="853" font-size="9.7" fill="#000" stroke="#000" stroke-width="0.3"><tspan x="1176.51">9</tspan> <tspan x="1185.34" textLength="18.53" lengthAdjust="spacingAndGlyphs">Nov</tspan> <tspan x="1208.41">12:00</tspan></text>
<text transform="scale(0.928,1)" y="853" font-size="9.7" fill="#000" stroke="#000" stroke-width="0.3"><tspan x="1246.23">10</tspan> <tspan x="1259.70" textLength="18.53" lengthAdjust="spacingAndGlyphs">Nov</tspan> <tspan x="1282.76">04:00</tspan></text>
<text transform="scale(0.928,1)" y="853" font-size="9.7" fill="#000" stroke="#000" stroke-width="0.3"><tspan x="1315.19">10</tspan> <tspan x="1328.66" textLength="18.53" lengthAdjust="spacingAndGlyphs">Nov</tspan> <tspan x="1351.72">20:00</tspan></text>
<text transform="scale(0.928,1)" y="853" font-size="9.7" fill="#000" stroke="#000" stroke-width="0.3"><tspan x="1384.16">11</tspan> <tspan x="1397.63" textLength="18.53" lengthAdjust="spacingAndGlyphs">Nov</tspan> <tspan x="1420.69">12:00</tspan></text>
<text transform="scale(0.928,1)" y="626" font-size="9.7" fill="#000" stroke="#000" stroke-width="0.3"><tspan x="9.48" textLength="31.90" lengthAdjust="spacingAndGlyphs">MACD</tspan><tspan x="40.73" textLength="40.95" lengthAdjust="spacingAndGlyphs">(12,26,9)</tspan> <tspan x="83.84">-0.8610</tspan> <tspan x="120.58">-0.5912</tspan></text>
<text transform="scale(0.928,1)" y="743" font-size="9.7" fill="#000" stroke="#000" stroke-width="0.3"><tspan x="9.59" textLength="16.81" lengthAdjust="spacingAndGlyphs">RSI</tspan><tspan x="26.19" textLength="18.53" lengthAdjust="spacingAndGlyphs">(14)</tspan> <tspan x="47.74">31.5715</tspan></text>
<text transform="translate(1644.5,624) scale(0.928,1)" font-size="9.7" fill="#000" stroke="#000" stroke-width="0.3">0.7958</text>
<text transform="translate(1644.5,662) scale(0.928,1)" font-size="9.7" fill="#000" stroke="#000" stroke-width="0.3">0.00</text>
<text transform="translate(1644.5,725) scale(0.928,1)" font-size="9.7" fill="#000" stroke="#000" stroke-width="0.3">-1.2551</text>
<text transform="translate(1644.5,741) scale(0.928,1)" font-size="9.7" fill="#000" stroke="#000" stroke-width="0.3">100</text>
<text transform="translate(1643.5,757) scale(0.928,1)" font-size="9.7" fill="#000" stroke="#000" stroke-width="0.3">80</text>
<text transform="translate(1643.5,789) scale(0.928,1)" font-size="9.7" fill="#000" stroke="#000" stroke-width="0.3">50</text>
<text transform="translate(1643.5,827) scale(0.928,1)" font-size="9.7" fill="#000" stroke="#000" stroke-width="0.3">15</text>
<text transform="translate(1644.7,837) scale(0.928,1)" font-size="9.7" fill="#000" stroke="#000" stroke-width="0.3">0</text>
</svg>
</body></html>
